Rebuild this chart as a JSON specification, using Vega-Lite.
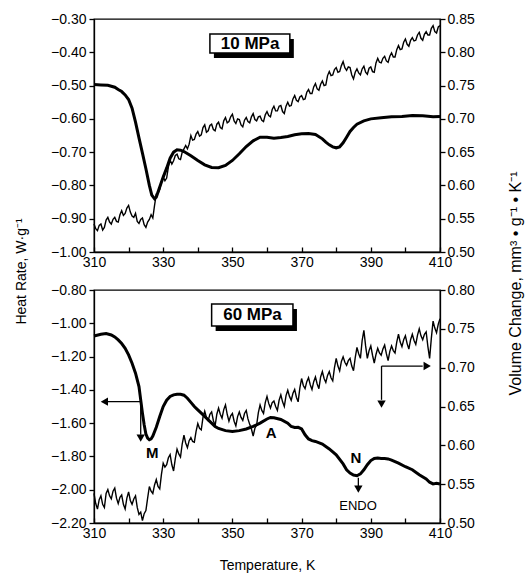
{
  "$schema": "https://vega.github.io/schema/vega-lite/v6.json",
  "padding": {"left": 13, "top": 11, "right": 2, "bottom": 2},
  "spacing": 38,
  "bounds": "flush",
  "config": {
    "font": "Liberation Sans",
    "view": {"stroke": "black", "strokeWidth": 1.3},
    "axis": {
      "grid": false, "domainColor": "black", "tickColor": "black", "labelColor": "black", "titleColor": "black",
      "labelFont": "Liberation Sans", "titleFont": "Liberation Sans", "labelFontSize": 14, "titleFontSize": 14,
      "titleFontWeight": "normal", "domainWidth": 1.3, "tickWidth": 1.3
    }
  },
  "datasets": {
    "topHeat": [
      {"T":310,"h":-0.497},{"T":312,"h":-0.498},{"T":314,"h":-0.499},{"T":316,"h":-0.505},{"T":317,"h":-0.512},{"T":318,"h":-0.518},{"T":319,"h":-0.528},{"T":320,"h":-0.542},{"T":321,"h":-0.568},{"T":322,"h":-0.61},{"T":323,"h":-0.657},{"T":324,"h":-0.703},{"T":325,"h":-0.75},{"T":326,"h":-0.8},{"T":326.7,"h":-0.829},{"T":327.5,"h":-0.84},{"T":328,"h":-0.835},{"T":329,"h":-0.805},{"T":330,"h":-0.775},{"T":331,"h":-0.748},{"T":332,"h":-0.718},{"T":333,"h":-0.7},{"T":334,"h":-0.693},{"T":335,"h":-0.694},{"T":336,"h":-0.698},{"T":338,"h":-0.711},{"T":340,"h":-0.725},{"T":342,"h":-0.738},{"T":344,"h":-0.746},{"T":346,"h":-0.747},{"T":348,"h":-0.74},{"T":350,"h":-0.725},{"T":352,"h":-0.705},{"T":354,"h":-0.683},{"T":356,"h":-0.666},{"T":358,"h":-0.655},{"T":360,"h":-0.655},{"T":362,"h":-0.658},{"T":364,"h":-0.656},{"T":366,"h":-0.653},{"T":368,"h":-0.648},{"T":370,"h":-0.645},{"T":372,"h":-0.644},{"T":374,"h":-0.647},{"T":376,"h":-0.66},{"T":377,"h":-0.67},{"T":378,"h":-0.678},{"T":379,"h":-0.684},{"T":380,"h":-0.687},{"T":381,"h":-0.684},{"T":382,"h":-0.672},{"T":383,"h":-0.655},{"T":384,"h":-0.638},{"T":385,"h":-0.626},{"T":386,"h":-0.616},{"T":388,"h":-0.606},{"T":390,"h":-0.6},{"T":393,"h":-0.597},{"T":396,"h":-0.594},{"T":399,"h":-0.593},{"T":402,"h":-0.59},{"T":405,"h":-0.591},{"T":408,"h":-0.594},{"T":410,"h":-0.593}
    ],
    "topVol": [
      {"T":310,"v":0.542},{"T":310.5,"v":0.535},{"T":311,"v":0.532},{"T":311.5,"v":0.54},{"T":312,"v":0.542},{"T":312.5,"v":0.533},{"T":313,"v":0.537},{"T":313.5,"v":0.548},{"T":314,"v":0.552},{"T":314.5,"v":0.545},{"T":315,"v":0.542},{"T":315.5,"v":0.549},{"T":316,"v":0.552},{"T":316.5,"v":0.546},{"T":317,"v":0.545},{"T":317.5,"v":0.556},{"T":318,"v":0.562},{"T":318.5,"v":0.555},{"T":319,"v":0.558},{"T":319.5,"v":0.566},{"T":320,"v":0.57},{"T":320.5,"v":0.56},{"T":321,"v":0.554},{"T":321.5,"v":0.552},{"T":322,"v":0.558},{"T":322.5,"v":0.546},{"T":323,"v":0.543},{"T":323.5,"v":0.549},{"T":324,"v":0.551},{"T":324.5,"v":0.541},{"T":325,"v":0.537},{"T":325.5,"v":0.545},{"T":326,"v":0.549},{"T":326.5,"v":0.556},{"T":327,"v":0.551},{"T":327.5,"v":0.57},{"T":328,"v":0.587},{"T":328.5,"v":0.588},{"T":329,"v":0.594},{"T":329.5,"v":0.606},{"T":330,"v":0.613},{"T":330.5,"v":0.607},{"T":331,"v":0.611},{"T":331.5,"v":0.628},{"T":332,"v":0.638},{"T":332.5,"v":0.632},{"T":333,"v":0.637},{"T":333.5,"v":0.645},{"T":334,"v":0.647},{"T":334.5,"v":0.64},{"T":335,"v":0.639},{"T":335.5,"v":0.65},{"T":336,"v":0.655},{"T":336.5,"v":0.66},{"T":337,"v":0.655},{"T":337.5,"v":0.662},{"T":338,"v":0.675},{"T":338.5,"v":0.668},{"T":339,"v":0.669},{"T":339.5,"v":0.677},{"T":340,"v":0.681},{"T":340.5,"v":0.674},{"T":341,"v":0.676},{"T":341.5,"v":0.687},{"T":342,"v":0.691},{"T":342.5,"v":0.68},{"T":343,"v":0.682},{"T":343.5,"v":0.69},{"T":344,"v":0.692},{"T":344.5,"v":0.684},{"T":345,"v":0.682},{"T":345.5,"v":0.692},{"T":346,"v":0.695},{"T":346.5,"v":0.687},{"T":347,"v":0.685},{"T":347.5,"v":0.697},{"T":348,"v":0.702},{"T":348.5,"v":0.694},{"T":349,"v":0.696},{"T":349.5,"v":0.703},{"T":350,"v":0.707},{"T":350.5,"v":0.697},{"T":351,"v":0.693},{"T":351.5,"v":0.7},{"T":352,"v":0.699},{"T":352.5,"v":0.691},{"T":353,"v":0.688},{"T":353.5,"v":0.698},{"T":354,"v":0.702},{"T":354.5,"v":0.696},{"T":355,"v":0.694},{"T":355.5,"v":0.703},{"T":356,"v":0.708},{"T":356.5,"v":0.699},{"T":357,"v":0.697},{"T":357.5,"v":0.703},{"T":358,"v":0.704},{"T":358.5,"v":0.698},{"T":359,"v":0.696},{"T":359.5,"v":0.706},{"T":360,"v":0.711},{"T":360.5,"v":0.705},{"T":361,"v":0.703},{"T":361.5,"v":0.714},{"T":362,"v":0.719},{"T":362.5,"v":0.712},{"T":363,"v":0.712},{"T":363.5,"v":0.719},{"T":364,"v":0.72},{"T":364.5,"v":0.711},{"T":365,"v":0.708},{"T":365.5,"v":0.719},{"T":366,"v":0.725},{"T":366.5,"v":0.719},{"T":367,"v":0.72},{"T":367.5,"v":0.73},{"T":368,"v":0.735},{"T":368.5,"v":0.728},{"T":369,"v":0.726},{"T":369.5,"v":0.733},{"T":370,"v":0.735},{"T":370.5,"v":0.729},{"T":371,"v":0.73},{"T":371.5,"v":0.74},{"T":372,"v":0.744},{"T":372.5,"v":0.738},{"T":373,"v":0.738},{"T":373.5,"v":0.748},{"T":374,"v":0.753},{"T":374.5,"v":0.745},{"T":375,"v":0.743},{"T":375.5,"v":0.752},{"T":376,"v":0.757},{"T":376.5,"v":0.75},{"T":377,"v":0.751},{"T":377.5,"v":0.765},{"T":378,"v":0.771},{"T":378.5,"v":0.765},{"T":379,"v":0.766},{"T":379.5,"v":0.774},{"T":380,"v":0.777},{"T":380.5,"v":0.77},{"T":381,"v":0.771},{"T":381.5,"v":0.78},{"T":382,"v":0.786},{"T":382.5,"v":0.777},{"T":383,"v":0.773},{"T":383.5,"v":0.778},{"T":384,"v":0.777},{"T":384.5,"v":0.766},{"T":385,"v":0.76},{"T":385.5,"v":0.77},{"T":386,"v":0.775},{"T":386.5,"v":0.769},{"T":387,"v":0.766},{"T":387.5,"v":0.775},{"T":388,"v":0.779},{"T":388.5,"v":0.77},{"T":389,"v":0.767},{"T":389.5,"v":0.776},{"T":390,"v":0.778},{"T":390.5,"v":0.771},{"T":391,"v":0.77},{"T":391.5,"v":0.784},{"T":392,"v":0.791},{"T":392.5,"v":0.785},{"T":393,"v":0.784},{"T":393.5,"v":0.791},{"T":394,"v":0.794},{"T":394.5,"v":0.787},{"T":395,"v":0.785},{"T":395.5,"v":0.794},{"T":396,"v":0.799},{"T":396.5,"v":0.793},{"T":397,"v":0.793},{"T":397.5,"v":0.804},{"T":398,"v":0.81},{"T":398.5,"v":0.804},{"T":399,"v":0.805},{"T":399.5,"v":0.815},{"T":400,"v":0.82},{"T":400.5,"v":0.812},{"T":401,"v":0.809},{"T":401.5,"v":0.818},{"T":402,"v":0.822},{"T":402.5,"v":0.817},{"T":403,"v":0.818},{"T":403.5,"v":0.826},{"T":404,"v":0.83},{"T":404.5,"v":0.821},{"T":405,"v":0.818},{"T":405.5,"v":0.827},{"T":406,"v":0.831},{"T":406.5,"v":0.826},{"T":407,"v":0.826},{"T":407.5,"v":0.836},{"T":408,"v":0.84},{"T":408.5,"v":0.831},{"T":409,"v":0.829},{"T":409.5,"v":0.838},{"T":410,"v":0.84}
    ],
    "botHeat": [
      {"T":310,"h":-1.076},{"T":312,"h":-1.066},{"T":313.5,"h":-1.062},{"T":315,"h":-1.07},{"T":316,"h":-1.082},{"T":317,"h":-1.1},{"T":318,"h":-1.122},{"T":319,"h":-1.15},{"T":320,"h":-1.19},{"T":321,"h":-1.24},{"T":322,"h":-1.3},{"T":323,"h":-1.38},{"T":323.5,"h":-1.46},{"T":324,"h":-1.54},{"T":324.5,"h":-1.61},{"T":325,"h":-1.665},{"T":325.5,"h":-1.69},{"T":326,"h":-1.7},{"T":326.5,"h":-1.695},{"T":327,"h":-1.678},{"T":328,"h":-1.625},{"T":329,"h":-1.56},{"T":330,"h":-1.5},{"T":331,"h":-1.462},{"T":332,"h":-1.44},{"T":333,"h":-1.43},{"T":334,"h":-1.426},{"T":335,"h":-1.427},{"T":336,"h":-1.432},{"T":337,"h":-1.45},{"T":338,"h":-1.475},{"T":339,"h":-1.5},{"T":340,"h":-1.52},{"T":341,"h":-1.54},{"T":342,"h":-1.56},{"T":343,"h":-1.58},{"T":344,"h":-1.6},{"T":345,"h":-1.62},{"T":346,"h":-1.632},{"T":348,"h":-1.645},{"T":350,"h":-1.65},{"T":352,"h":-1.645},{"T":354,"h":-1.635},{"T":356,"h":-1.62},{"T":358,"h":-1.6},{"T":360,"h":-1.575},{"T":361,"h":-1.566},{"T":362,"h":-1.568},{"T":364,"h":-1.578},{"T":366,"h":-1.6},{"T":367,"h":-1.62},{"T":368,"h":-1.626},{"T":369,"h":-1.625},{"T":370,"h":-1.635},{"T":371,"h":-1.67},{"T":372,"h":-1.695},{"T":373,"h":-1.705},{"T":374,"h":-1.71},{"T":376,"h":-1.726},{"T":378,"h":-1.755},{"T":380,"h":-1.79},{"T":382,"h":-1.845},{"T":383,"h":-1.88},{"T":384,"h":-1.9},{"T":385,"h":-1.912},{"T":386,"h":-1.916},{"T":387,"h":-1.905},{"T":388,"h":-1.88},{"T":389,"h":-1.85},{"T":390,"h":-1.825},{"T":391,"h":-1.812},{"T":392,"h":-1.81},{"T":393,"h":-1.812},{"T":394,"h":-1.812},{"T":395,"h":-1.815},{"T":396,"h":-1.822},{"T":398,"h":-1.84},{"T":400,"h":-1.862},{"T":402,"h":-1.88},{"T":404,"h":-1.91},{"T":406,"h":-1.935},{"T":407,"h":-1.955},{"T":408,"h":-1.965},{"T":409,"h":-1.962},{"T":410,"h":-1.966}
    ],
    "botVol": [
      {"T":310,"v":0.538},{"T":310.5,"v":0.525},{"T":311,"v":0.518},{"T":311.5,"v":0.53},{"T":312,"v":0.535},{"T":312.5,"v":0.524},{"T":313,"v":0.52},{"T":313.5,"v":0.538},{"T":314,"v":0.543},{"T":314.5,"v":0.535},{"T":315,"v":0.531},{"T":315.5,"v":0.541},{"T":316,"v":0.545},{"T":316.5,"v":0.532},{"T":317,"v":0.525},{"T":317.5,"v":0.533},{"T":318,"v":0.536},{"T":318.5,"v":0.524},{"T":319,"v":0.518},{"T":319.5,"v":0.532},{"T":320,"v":0.54},{"T":320.5,"v":0.529},{"T":321,"v":0.524},{"T":321.5,"v":0.531},{"T":322,"v":0.535},{"T":322.5,"v":0.52},{"T":323,"v":0.511},{"T":323.5,"v":0.514},{"T":324,"v":0.503},{"T":324.5,"v":0.512},{"T":325,"v":0.516},{"T":325.5,"v":0.532},{"T":326,"v":0.547},{"T":326.5,"v":0.541},{"T":327,"v":0.538},{"T":327.5,"v":0.549},{"T":328,"v":0.556},{"T":328.5,"v":0.547},{"T":329,"v":0.544},{"T":329.5,"v":0.563},{"T":330,"v":0.577},{"T":330.5,"v":0.572},{"T":331,"v":0.575},{"T":331.5,"v":0.584},{"T":332,"v":0.588},{"T":332.5,"v":0.575},{"T":333,"v":0.567},{"T":333.5,"v":0.583},{"T":334,"v":0.595},{"T":334.5,"v":0.589},{"T":335,"v":0.585},{"T":335.5,"v":0.602},{"T":336,"v":0.613},{"T":336.5,"v":0.603},{"T":337,"v":0.597},{"T":337.5,"v":0.606},{"T":338,"v":0.61},{"T":338.5,"v":0.605},{"T":339,"v":0.604},{"T":339.5,"v":0.618},{"T":340,"v":0.628},{"T":340.5,"v":0.622},{"T":341,"v":0.62},{"T":341.5,"v":0.636},{"T":342,"v":0.644},{"T":342.5,"v":0.636},{"T":343,"v":0.632},{"T":343.5,"v":0.64},{"T":344,"v":0.643},{"T":344.5,"v":0.632},{"T":345,"v":0.625},{"T":345.5,"v":0.64},{"T":346,"v":0.648},{"T":346.5,"v":0.64},{"T":347,"v":0.635},{"T":347.5,"v":0.646},{"T":348,"v":0.652},{"T":348.5,"v":0.64},{"T":349,"v":0.631},{"T":349.5,"v":0.638},{"T":350,"v":0.641},{"T":350.5,"v":0.631},{"T":351,"v":0.625},{"T":351.5,"v":0.637},{"T":352,"v":0.643},{"T":352.5,"v":0.636},{"T":353,"v":0.632},{"T":353.5,"v":0.641},{"T":354,"v":0.645},{"T":354.5,"v":0.634},{"T":355,"v":0.627},{"T":355.5,"v":0.621},{"T":356,"v":0.612},{"T":356.5,"v":0.622},{"T":357,"v":0.626},{"T":357.5,"v":0.642},{"T":358,"v":0.652},{"T":358.5,"v":0.645},{"T":359,"v":0.641},{"T":359.5,"v":0.655},{"T":360,"v":0.663},{"T":360.5,"v":0.654},{"T":361,"v":0.648},{"T":361.5,"v":0.655},{"T":362,"v":0.657},{"T":362.5,"v":0.65},{"T":363,"v":0.645},{"T":363.5,"v":0.658},{"T":364,"v":0.665},{"T":364.5,"v":0.656},{"T":365,"v":0.65},{"T":365.5,"v":0.664},{"T":366,"v":0.671},{"T":366.5,"v":0.663},{"T":367,"v":0.658},{"T":367.5,"v":0.667},{"T":368,"v":0.672},{"T":368.5,"v":0.662},{"T":369,"v":0.656},{"T":369.5,"v":0.674},{"T":370,"v":0.686},{"T":370.5,"v":0.677},{"T":371,"v":0.673},{"T":371.5,"v":0.682},{"T":372,"v":0.687},{"T":372.5,"v":0.678},{"T":373,"v":0.672},{"T":373.5,"v":0.682},{"T":374,"v":0.688},{"T":374.5,"v":0.679},{"T":375,"v":0.673},{"T":375.5,"v":0.688},{"T":376,"v":0.695},{"T":376.5,"v":0.686},{"T":377,"v":0.681},{"T":377.5,"v":0.69},{"T":378,"v":0.695},{"T":378.5,"v":0.687},{"T":379,"v":0.683},{"T":379.5,"v":0.7},{"T":380,"v":0.712},{"T":380.5,"v":0.702},{"T":381,"v":0.696},{"T":381.5,"v":0.708},{"T":382,"v":0.714},{"T":382.5,"v":0.707},{"T":383,"v":0.703},{"T":383.5,"v":0.709},{"T":384,"v":0.712},{"T":384.5,"v":0.702},{"T":385,"v":0.696},{"T":385.5,"v":0.713},{"T":386,"v":0.726},{"T":386.5,"v":0.718},{"T":387,"v":0.712},{"T":387.5,"v":0.735},{"T":388,"v":0.748},{"T":388.5,"v":0.728},{"T":389,"v":0.712},{"T":389.5,"v":0.722},{"T":390,"v":0.728},{"T":390.5,"v":0.716},{"T":391,"v":0.706},{"T":391.5,"v":0.717},{"T":392,"v":0.725},{"T":392.5,"v":0.719},{"T":393,"v":0.716},{"T":393.5,"v":0.724},{"T":394,"v":0.729},{"T":394.5,"v":0.718},{"T":395,"v":0.709},{"T":395.5,"v":0.721},{"T":396,"v":0.728},{"T":396.5,"v":0.722},{"T":397,"v":0.719},{"T":397.5,"v":0.733},{"T":398,"v":0.743},{"T":398.5,"v":0.733},{"T":399,"v":0.727},{"T":399.5,"v":0.736},{"T":400,"v":0.741},{"T":400.5,"v":0.731},{"T":401,"v":0.724},{"T":401.5,"v":0.736},{"T":402,"v":0.743},{"T":402.5,"v":0.735},{"T":403,"v":0.73},{"T":403.5,"v":0.742},{"T":404,"v":0.75},{"T":404.5,"v":0.741},{"T":405,"v":0.736},{"T":405.5,"v":0.743},{"T":406,"v":0.746},{"T":406.5,"v":0.727},{"T":407,"v":0.712},{"T":407.5,"v":0.738},{"T":408,"v":0.76},{"T":408.5,"v":0.751},{"T":409,"v":0.745},{"T":409.5,"v":0.756},{"T":410,"v":0.763}
    ],
    "topBox": [{"T":343.5,"T2":366.6,"h":-0.345,"h2":-0.402}],
    "topLabel": [{"T":355.1,"h":-0.374,"label":"10 MPa"}],
    "botBox": [{"T":344,"T2":367.5,"h":-0.884,"h2":-1.016}],
    "botLabel": [{"T":355.8,"h":-0.951,"label":"60 MPa"}],
    "arrows": [
      {"T":313.5,"T2":323.5,"h":-1.471,"h2":-1.471},
      {"T":323.5,"T2":323.5,"h":-1.471,"h2":-1.67},
      {"T":393.1,"T2":405,"h":-1.257,"h2":-1.257},
      {"T":393.1,"T2":393.1,"h":-1.257,"h2":-1.46},
      {"T":386.4,"T2":386.4,"h":-1.928,"h2":-1.98}
    ],
    "headsLeft": [{"T":313.0,"h":-1.471}],
    "headsDown": [{"T":323.5,"h":-1.69},{"T":393.1,"h":-1.485},{"T":386.4,"h":-1.996}],
    "headsRight": [{"T":406.3,"h":-1.257}],
    "peaks": [{"T":326.8,"h":-1.78,"label":"M"},{"T":361.2,"h":-1.659,"label":"A"},{"T":385.7,"h":-1.81,"label":"N"}],
    "endo": [{"T":386.3,"h":-2.098,"label":"ENDO"}]
  },
  "vconcat": [
    {
      "width": 346,
      "height": 233,
      "resolve": {"scale": {"y": "independent"}},
      "layer": [
        {
          "layer": [
            {
              "data": {"name": "topHeat"},
              "mark": {"type": "line", "color": "black", "strokeWidth": 3},
              "encoding": {
                "x": {"field": "T", "type": "quantitative", "scale": {"domain": [310, 410], "nice": false},
                  "axis": {"values": [310,320,330,340,350,360,370,380,390,400,410], "labelExpr": "datum.value % 20 == 10 ? datum.label : ''", "title": null, "tickSize": -5, "labelPadding": 8, "labelFlush": false, "labelOverlap": false}},
                "y": {"field": "h", "type": "quantitative", "scale": {"domain": [-1.0, -0.3], "nice": false},
                  "axis": {"orient": "left", "values": [-1.0,-0.9,-0.8,-0.7,-0.6,-0.5,-0.4,-0.3], "format": ".2f", "tickSize": 5, "labelPadding": 3, "labelOverlap": false, "title": "Heat Rate, W·g⁻¹", "titleAngle": 270, "titleAlign": "center", "titleBaseline": "bottom", "titleX": -66, "titleY": 252}}
              }
            },
            {
              "data": {"name": "topBox"},
              "mark": {"type": "rect", "fill": "black", "xOffset": 4, "x2Offset": 4, "yOffset": 5, "y2Offset": 5},
              "encoding": {
                "x": {"field": "T", "type": "quantitative",
                  "axis": {"values": [310,320,330,340,350,360,370,380,390,400,410], "labelExpr": "datum.value % 20 == 10 ? datum.label : ''", "title": null, "tickSize": -5, "labelPadding": 8, "labelFlush": false, "labelOverlap": false}},
                "x2": {"field": "T2"},
                "y": {"field": "h", "type": "quantitative",
                  "axis": {"orient": "left", "values": [-1.0,-0.9,-0.8,-0.7,-0.6,-0.5,-0.4,-0.3], "format": ".2f", "tickSize": 5, "labelPadding": 3, "labelOverlap": false, "title": "Heat Rate, W·g⁻¹", "titleAngle": 270, "titleAlign": "center", "titleBaseline": "bottom", "titleX": -66, "titleY": 252}},
                "y2": {"field": "h2"}
              }
            },
            {
              "data": {"name": "topBox"},
              "mark": {"type": "rect", "fill": "white", "stroke": "black", "strokeWidth": 1.5},
              "encoding": {
                "x": {"field": "T", "type": "quantitative",
                  "axis": {"values": [310,320,330,340,350,360,370,380,390,400,410], "labelExpr": "datum.value % 20 == 10 ? datum.label : ''", "title": null, "tickSize": -5, "labelPadding": 8, "labelFlush": false, "labelOverlap": false}},
                "x2": {"field": "T2"},
                "y": {"field": "h", "type": "quantitative",
                  "axis": {"orient": "left", "values": [-1.0,-0.9,-0.8,-0.7,-0.6,-0.5,-0.4,-0.3], "format": ".2f", "tickSize": 5, "labelPadding": 3, "labelOverlap": false, "title": "Heat Rate, W·g⁻¹", "titleAngle": 270, "titleAlign": "center", "titleBaseline": "bottom", "titleX": -66, "titleY": 252}},
                "y2": {"field": "h2"}
              }
            },
            {
              "data": {"name": "topLabel"},
              "mark": {"type": "text", "fontSize": 17, "fontWeight": "bold", "font": "Liberation Sans", "color": "black", "baseline": "middle", "align": "center"},
              "encoding": {
                "x": {"field": "T", "type": "quantitative",
                  "axis": {"values": [310,320,330,340,350,360,370,380,390,400,410], "labelExpr": "datum.value % 20 == 10 ? datum.label : ''", "title": null, "tickSize": -5, "labelPadding": 8, "labelFlush": false, "labelOverlap": false}},
                "y": {"field": "h", "type": "quantitative",
                  "axis": {"orient": "left", "values": [-1.0,-0.9,-0.8,-0.7,-0.6,-0.5,-0.4,-0.3], "format": ".2f", "tickSize": 5, "labelPadding": 3, "labelOverlap": false, "title": "Heat Rate, W·g⁻¹", "titleAngle": 270, "titleAlign": "center", "titleBaseline": "bottom", "titleX": -66, "titleY": 252}},
                "text": {"field": "label"}
              }
            }
          ]
        },
        {
          "data": {"name": "topVol"},
          "mark": {"type": "line", "color": "black", "strokeWidth": 1.4},
          "encoding": {
            "x": {"field": "T", "type": "quantitative",
              "axis": {"values": [310,320,330,340,350,360,370,380,390,400,410], "labelExpr": "datum.value % 20 == 10 ? datum.label : ''", "title": null, "tickSize": -5, "labelPadding": 8, "labelFlush": false, "labelOverlap": false}},
            "y": {"field": "v", "type": "quantitative", "scale": {"domain": [0.5, 0.85], "nice": false},
              "axis": {"orient": "right", "values": [0.5,0.55,0.6,0.65,0.7,0.75,0.8,0.85], "format": ".2f", "tickSize": 5, "labelPadding": 2, "labelOverlap": false,
                "title": "Volume Change, mm³ • g⁻¹ • K⁻¹", "titleFontSize": 16, "titleAngle": 270, "titleAlign": "center", "titleBaseline": "bottom", "titleX": 83, "titleY": 264}}
          }
        }
      ]
    },
    {
      "width": 346,
      "height": 233,
      "resolve": {"scale": {"y": "independent"}},
      "layer": [
        {
          "layer": [
            {
              "data": {"name": "botHeat"},
              "mark": {"type": "line", "color": "black", "strokeWidth": 3},
              "encoding": {
                "x": {"field": "T", "type": "quantitative", "scale": {"domain": [310, 410], "nice": false},
                  "axis": {"values": [310,320,330,340,350,360,370,380,390,400,410], "labelExpr": "datum.value % 20 == 10 ? datum.label : ''", "title": "Temperature, K", "titlePadding": 18, "tickSize": -5, "labelPadding": 8, "labelFlush": false, "labelOverlap": false}},
                "y": {"field": "h", "type": "quantitative", "scale": {"domain": [-2.2, -0.8], "nice": false},
                  "axis": {"orient": "left", "values": [-2.2,-2.0,-1.8,-1.6,-1.4,-1.2,-1.0,-0.8], "format": ".2f", "tickSize": 5, "labelPadding": 3, "labelOverlap": false, "title": null}}
              }
            },
            {
              "data": {"name": "botBox"},
              "mark": {"type": "rect", "fill": "black", "xOffset": 4, "x2Offset": 4, "yOffset": 5, "y2Offset": 5},
              "encoding": {
                "x": {"field": "T", "type": "quantitative",
                  "axis": {"values": [310,320,330,340,350,360,370,380,390,400,410], "labelExpr": "datum.value % 20 == 10 ? datum.label : ''", "title": "Temperature, K", "titlePadding": 18, "tickSize": -5, "labelPadding": 8, "labelFlush": false, "labelOverlap": false}},
                "x2": {"field": "T2"},
                "y": {"field": "h", "type": "quantitative",
                  "axis": {"orient": "left", "values": [-2.2,-2.0,-1.8,-1.6,-1.4,-1.2,-1.0,-0.8], "format": ".2f", "tickSize": 5, "labelPadding": 3, "labelOverlap": false, "title": null}},
                "y2": {"field": "h2"}
              }
            },
            {
              "data": {"name": "botBox"},
              "mark": {"type": "rect", "fill": "white", "stroke": "black", "strokeWidth": 1.5},
              "encoding": {
                "x": {"field": "T", "type": "quantitative",
                  "axis": {"values": [310,320,330,340,350,360,370,380,390,400,410], "labelExpr": "datum.value % 20 == 10 ? datum.label : ''", "title": "Temperature, K", "titlePadding": 18, "tickSize": -5, "labelPadding": 8, "labelFlush": false, "labelOverlap": false}},
                "x2": {"field": "T2"},
                "y": {"field": "h", "type": "quantitative",
                  "axis": {"orient": "left", "values": [-2.2,-2.0,-1.8,-1.6,-1.4,-1.2,-1.0,-0.8], "format": ".2f", "tickSize": 5, "labelPadding": 3, "labelOverlap": false, "title": null}},
                "y2": {"field": "h2"}
              }
            },
            {
              "data": {"name": "botLabel"},
              "mark": {"type": "text", "fontSize": 17, "fontWeight": "bold", "font": "Liberation Sans", "color": "black", "baseline": "middle", "align": "center"},
              "encoding": {
                "x": {"field": "T", "type": "quantitative",
                  "axis": {"values": [310,320,330,340,350,360,370,380,390,400,410], "labelExpr": "datum.value % 20 == 10 ? datum.label : ''", "title": "Temperature, K", "titlePadding": 18, "tickSize": -5, "labelPadding": 8, "labelFlush": false, "labelOverlap": false}},
                "y": {"field": "h", "type": "quantitative",
                  "axis": {"orient": "left", "values": [-2.2,-2.0,-1.8,-1.6,-1.4,-1.2,-1.0,-0.8], "format": ".2f", "tickSize": 5, "labelPadding": 3, "labelOverlap": false, "title": null}},
                "text": {"field": "label"}
              }
            },
            {
              "data": {"name": "arrows"},
              "mark": {"type": "rule", "color": "black", "strokeWidth": 1.3},
              "encoding": {
                "x": {"field": "T", "type": "quantitative",
                  "axis": {"values": [310,320,330,340,350,360,370,380,390,400,410], "labelExpr": "datum.value % 20 == 10 ? datum.label : ''", "title": "Temperature, K", "titlePadding": 18, "tickSize": -5, "labelPadding": 8, "labelFlush": false, "labelOverlap": false}},
                "x2": {"field": "T2"},
                "y": {"field": "h", "type": "quantitative",
                  "axis": {"orient": "left", "values": [-2.2,-2.0,-1.8,-1.6,-1.4,-1.2,-1.0,-0.8], "format": ".2f", "tickSize": 5, "labelPadding": 3, "labelOverlap": false, "title": null}},
                "y2": {"field": "h2"}
              }
            },
            {
              "data": {"name": "headsLeft"},
              "mark": {"type": "point", "shape": "triangle-left", "filled": true, "color": "black", "size": 70, "opacity": 1},
              "encoding": {
                "x": {"field": "T", "type": "quantitative",
                  "axis": {"values": [310,320,330,340,350,360,370,380,390,400,410], "labelExpr": "datum.value % 20 == 10 ? datum.label : ''", "title": "Temperature, K", "titlePadding": 18, "tickSize": -5, "labelPadding": 8, "labelFlush": false, "labelOverlap": false}},
                "y": {"field": "h", "type": "quantitative",
                  "axis": {"orient": "left", "values": [-2.2,-2.0,-1.8,-1.6,-1.4,-1.2,-1.0,-0.8], "format": ".2f", "tickSize": 5, "labelPadding": 3, "labelOverlap": false, "title": null}}
              }
            },
            {
              "data": {"name": "headsDown"},
              "mark": {"type": "point", "shape": "triangle-down", "filled": true, "color": "black", "size": 70, "opacity": 1},
              "encoding": {
                "x": {"field": "T", "type": "quantitative",
                  "axis": {"values": [310,320,330,340,350,360,370,380,390,400,410], "labelExpr": "datum.value % 20 == 10 ? datum.label : ''", "title": "Temperature, K", "titlePadding": 18, "tickSize": -5, "labelPadding": 8, "labelFlush": false, "labelOverlap": false}},
                "y": {"field": "h", "type": "quantitative",
                  "axis": {"orient": "left", "values": [-2.2,-2.0,-1.8,-1.6,-1.4,-1.2,-1.0,-0.8], "format": ".2f", "tickSize": 5, "labelPadding": 3, "labelOverlap": false, "title": null}}
              }
            },
            {
              "data": {"name": "headsRight"},
              "mark": {"type": "point", "shape": "triangle-right", "filled": true, "color": "black", "size": 70, "opacity": 1},
              "encoding": {
                "x": {"field": "T", "type": "quantitative",
                  "axis": {"values": [310,320,330,340,350,360,370,380,390,400,410], "labelExpr": "datum.value % 20 == 10 ? datum.label : ''", "title": "Temperature, K", "titlePadding": 18, "tickSize": -5, "labelPadding": 8, "labelFlush": false, "labelOverlap": false}},
                "y": {"field": "h", "type": "quantitative",
                  "axis": {"orient": "left", "values": [-2.2,-2.0,-1.8,-1.6,-1.4,-1.2,-1.0,-0.8], "format": ".2f", "tickSize": 5, "labelPadding": 3, "labelOverlap": false, "title": null}}
              }
            },
            {
              "data": {"name": "peaks"},
              "mark": {"type": "text", "fontSize": 15, "fontWeight": "bold", "font": "Liberation Sans", "color": "black", "baseline": "middle", "align": "center"},
              "encoding": {
                "x": {"field": "T", "type": "quantitative",
                  "axis": {"values": [310,320,330,340,350,360,370,380,390,400,410], "labelExpr": "datum.value % 20 == 10 ? datum.label : ''", "title": "Temperature, K", "titlePadding": 18, "tickSize": -5, "labelPadding": 8, "labelFlush": false, "labelOverlap": false}},
                "y": {"field": "h", "type": "quantitative",
                  "axis": {"orient": "left", "values": [-2.2,-2.0,-1.8,-1.6,-1.4,-1.2,-1.0,-0.8], "format": ".2f", "tickSize": 5, "labelPadding": 3, "labelOverlap": false, "title": null}},
                "text": {"field": "label"}
              }
            },
            {
              "data": {"name": "endo"},
              "mark": {"type": "text", "fontSize": 13, "font": "Liberation Sans", "color": "black", "baseline": "middle", "align": "center"},
              "encoding": {
                "x": {"field": "T", "type": "quantitative",
                  "axis": {"values": [310,320,330,340,350,360,370,380,390,400,410], "labelExpr": "datum.value % 20 == 10 ? datum.label : ''", "title": "Temperature, K", "titlePadding": 18, "tickSize": -5, "labelPadding": 8, "labelFlush": false, "labelOverlap": false}},
                "y": {"field": "h", "type": "quantitative",
                  "axis": {"orient": "left", "values": [-2.2,-2.0,-1.8,-1.6,-1.4,-1.2,-1.0,-0.8], "format": ".2f", "tickSize": 5, "labelPadding": 3, "labelOverlap": false, "title": null}},
                "text": {"field": "label"}
              }
            }
          ]
        },
        {
          "data": {"name": "botVol"},
          "mark": {"type": "line", "color": "black", "strokeWidth": 1.4},
          "encoding": {
            "x": {"field": "T", "type": "quantitative",
              "axis": {"values": [310,320,330,340,350,360,370,380,390,400,410], "labelExpr": "datum.value % 20 == 10 ? datum.label : ''", "title": "Temperature, K", "titlePadding": 18, "tickSize": -5, "labelPadding": 8, "labelFlush": false, "labelOverlap": false}},
            "y": {"field": "v", "type": "quantitative", "scale": {"domain": [0.5, 0.8], "nice": false},
              "axis": {"orient": "right", "values": [0.5,0.55,0.6,0.65,0.7,0.75,0.8], "format": ".2f", "tickSize": 5, "labelPadding": 2, "labelOverlap": false, "title": null}}
          }
        }
      ]
    }
  ]
}
